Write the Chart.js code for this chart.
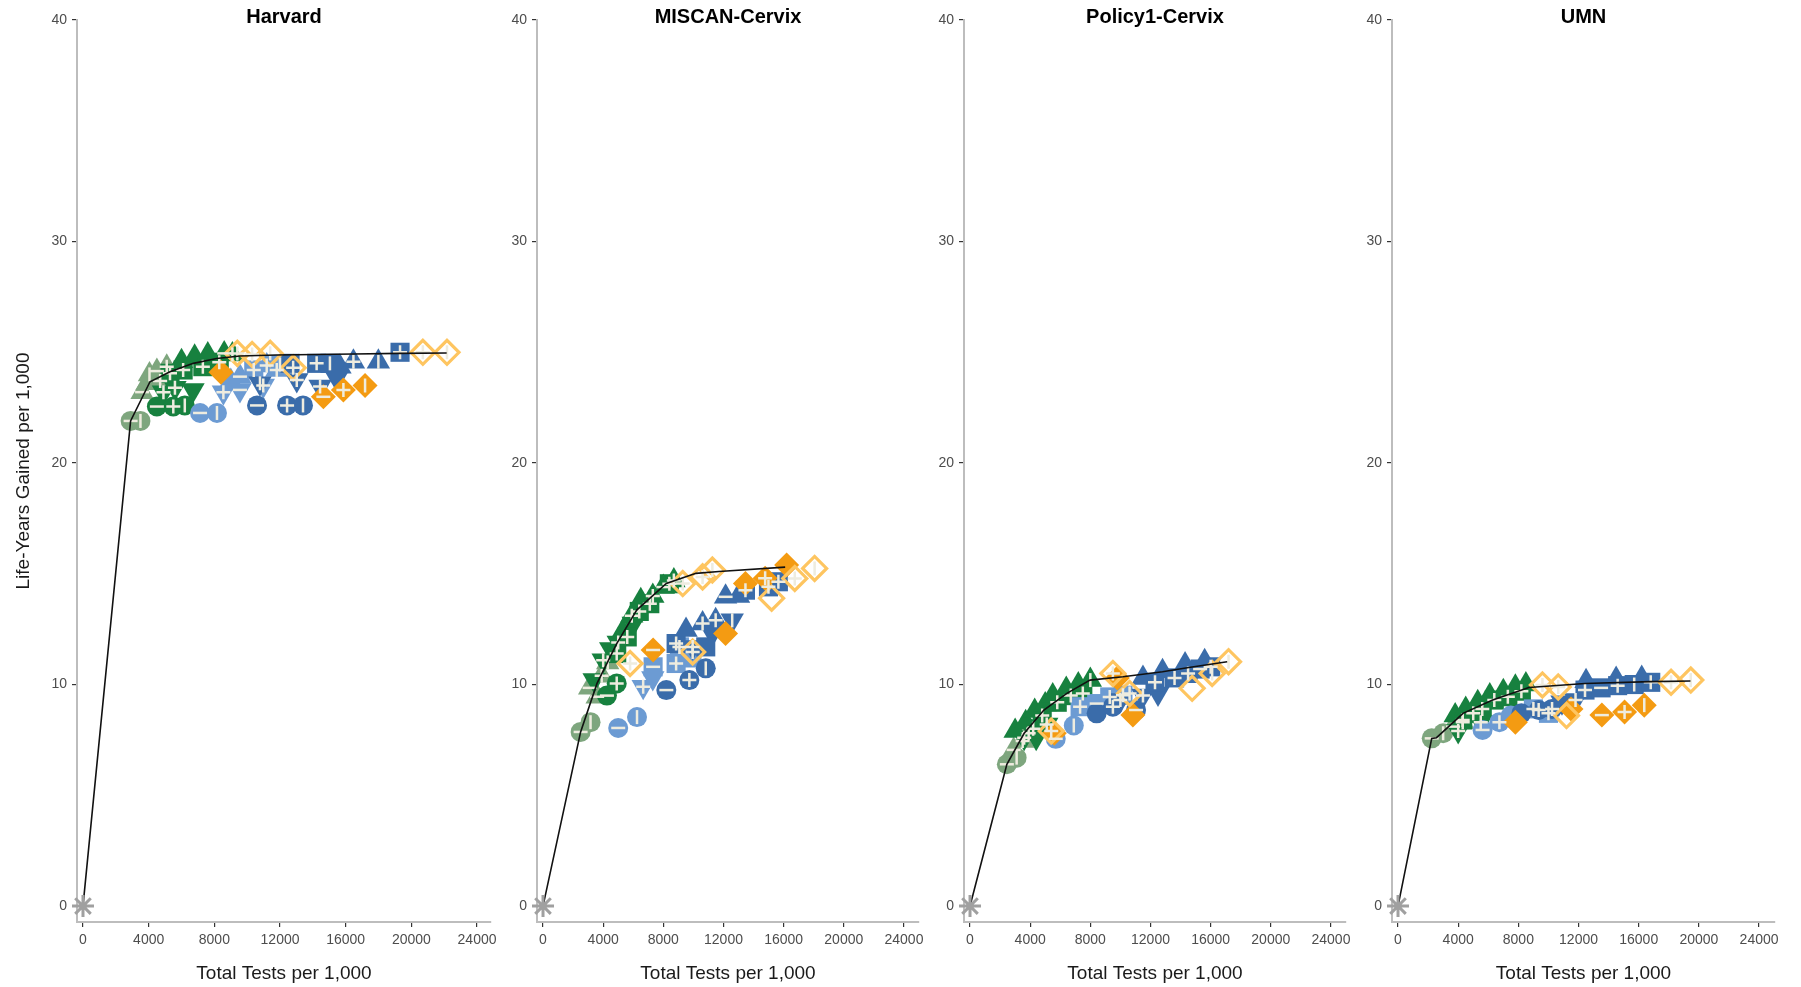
<!DOCTYPE html>
<html>
<head>
<meta charset="utf-8">
<title>Life-years gained vs. total tests</title>
<script src="https://cdn.jsdelivr.net/npm/chart.js@4.4.1/dist/chart.umd.min.js"></script>
<style>
  body { margin: 0; background: #fff; width: 1801px; height: 987px; position: relative; overflow: hidden; }
  .panel { position: absolute; top: 0; height: 987px; }
</style>
</head>
<body>
<div class="panel" style="left:0px;width:521px"><canvas id="c0"></canvas></div>
<div class="panel" style="left:497px;width:452px"><canvas id="c1"></canvas></div>
<div class="panel" style="left:924px;width:452px"><canvas id="c2"></canvas></div>
<div class="panel" style="left:1352px;width:448px"><canvas id="c3"></canvas></div>
<script>
// axes
const xTicks = [0, 4000, 8000, 12000, 16000, 20000, 24000];
const yTicks = [0, 10, 20, 30, 40];
const modelNames = ['Harvard', 'MISCAN-Cervix', 'Policy1-Cervix', 'UMN'];

// efficient frontiers
const harvardFrontierX = [0, 2900, 4080, 5300, 6720, 8140, 9560, 11800, 16500, 19300, 22150];
const harvardFrontierY = [0, 21.9, 23.67, 24.12, 24.5, 24.72, 24.83, 24.88, 24.92, 24.95, 24.97];
const miscanFrontierX = [0, 2500, 3590, 4910, 6230, 8200, 10170, 11700, 16100];
const miscanFrontierY = [0, 7.86, 10.05, 11.86, 13.36, 14.56, 15.02, 15.1, 15.3];
const policyFrontierX = [0, 2450, 3600, 4910, 6440, 7980, 10170, 12800, 14550, 17100];
const policyFrontierY = [0, 6.4, 7.8, 8.85, 9.6, 10.2, 10.35, 10.58, 10.77, 11.03];
const umnFrontierX = [0, 2240, 2560, 4320, 6290, 8700, 12430, 16810, 19440];
const umnFrontierY = [0, 7.57, 7.6, 8.7, 9.3, 9.87, 10.05, 10.13, 10.16];

// strategies: [tests, life-years, code]
const harvardSageCircle = [[2900, 21.9, '-'], [3500, 21.9, '|']];
const harvardSageTri = [[3600, 23.2, '-'], [3900, 23.6, ''], [4050, 24.0, '|'], [4700, 23.7, '+'], [4500, 24.15, '-'], [5100, 24.35, '+']];
const harvardGreenCircle = [[4500, 22.55, '-'], [5500, 22.55, '+'], [6200, 22.6, '|']];
const harvardGreenTriDown = [[4900, 23.2, '+'], [5600, 23.4, '+'], [6700, 23.3, '']];
const harvardGreenSquare = [[5300, 24.05, '+'], [6100, 24.2, '+'], [7300, 24.35, '+'], [8300, 24.55, '+']];
const harvardGreenTri = [[6000, 24.6, ''], [6800, 24.8, ''], [7600, 24.9, ''], [8600, 24.95, '-'], [9100, 24.9, '|']];
const harvardLtBlueCircle = [[7130, 22.26, '-'], [8160, 22.26, '|']];
const harvardLtBlueTriDown = [[8550, 23.2, '+'], [9560, 23.3, '-'], [10980, 23.5, '+']];
const harvardLtBlueTri = [[9000, 23.7, ''], [9560, 23.9, '-'], [11190, 24.4, '+'], [11800, 24.2, '+']];
const harvardLtBlueSquare = [[10400, 24.2, '+'], [12000, 24.45, '|']];
const harvardBlueCircle = [[10600, 22.6, '-'], [12430, 22.6, '+'], [13400, 22.6, '|']];
const harvardBlueTriDown = [[10780, 23.6, '|'], [13020, 23.75, '+'], [14440, 23.45, '+'], [15450, 23.82, '']];
const harvardBlueSquare = [[12610, 24.5, ''], [14230, 24.5, '+'], [15040, 24.5, '|'], [19310, 25.0, '+']];
const harvardBlueTri = [[15650, 24.35, ''], [16470, 24.57, '+'], [17990, 24.57, '|']];
const harvardOrangeDiamond = [[8400, 24.1, ''], [14640, 22.99, '-'], [15860, 23.3, '+'], [17180, 23.5, '|']];
const harvardOpenDiamond = [[9400, 24.95, '+'], [10300, 24.9, '+'], [11400, 24.95, '|'], [12800, 24.3, '+'], [20700, 25.0, '+'], [22170, 25.0, '|']];

const miscanSageCircle = [[2500, 7.86, '-'], [3160, 8.3, '|']];
const miscanSageTri = [[3100, 9.85, '-'], [3600, 9.45, '-'], [3900, 10.4, '+'], [4300, 11.0, '|']];
const miscanGreenCircle = [[4250, 9.5, '-'], [4900, 10.05, '+']];
const miscanGreenTriDown = [[3400, 10.2, ''], [4000, 11.1, '+'], [4500, 11.6, ''], [5000, 11.9, '+'], [6000, 12.75, '']];
const miscanGreenSquare = [[4900, 11.4, '+'], [5600, 12.15, '+'], [6400, 13.3, '+'], [7100, 13.65, '+'], [8400, 14.55, '+']];
const miscanGreenTri = [[5300, 12.4, ''], [5900, 13.1, '+'], [6500, 13.8, ''], [7300, 14.0, '+'], [8000, 14.4, '-'], [8700, 14.7, '+']];
const miscanLtBlueCircle = [[5000, 8.04, '-'], [6250, 8.53, '|']];
const miscanLtBlueTriDown = [[6660, 9.9, '+'], [7300, 10.3, '']];
const miscanLtBlueSquare = [[7320, 10.8, '-'], [8850, 10.95, '+'], [9070, 11.7, '+'], [9900, 11.2, '']];
const miscanBlueCircle = [[8200, 9.75, '-'], [9730, 10.2, '+'], [10820, 10.73, '|']];
const miscanBlueTriDown = [[9950, 11.7, '+'], [11260, 12.3, ''], [12580, 12.9, '|']];
const miscanBlueSquare = [[8850, 11.85, '+'], [10820, 11.7, ''], [13460, 14.26, '+'], [14990, 14.41, '+'], [15650, 14.64, '+']];
const miscanBlueTri = [[9510, 12.46, ''], [10610, 12.76, '+'], [11480, 12.9, '+'], [12140, 13.96, '-'], [13000, 14.0, '']];
const miscanOrangeDiamond = [[7320, 11.56, '-'], [12140, 12.3, ''], [13460, 14.56, ''], [14770, 14.8, '+'], [16200, 15.4, '']];
const miscanOpenDiamond = [[5790, 10.95, '+'], [9950, 11.47, '+'], [9290, 14.56, '+'], [10610, 14.86, '+'], [11260, 15.17, '|'], [15200, 13.9, ''], [16740, 14.79, '+'], [18060, 15.24, '|']];

const policySageCircle = [[2450, 6.4, '-'], [3100, 6.7, '|']];
const policySageTri = [[2900, 7.05, '-'], [3500, 7.45, '+'], [3900, 7.8, '+']];
const policyGreenTriDown = [[3600, 7.6, '+'], [4400, 7.6, ''], [5100, 8.2, '+']];
const policyGreenSquare = [[4200, 8.0, '+'], [4800, 8.6, '+'], [5800, 9.2, '+'], [6700, 9.5, '+'], [7500, 9.6, '+']];
const policyGreenTri = [[3000, 7.9, ''], [3700, 8.3, ''], [4300, 8.8, ''], [5000, 9.1, ''], [5500, 9.5, ''], [6400, 9.8, ''], [7200, 10.0, ''], [8000, 10.2, '|']];
const policyLtBlueCircle = [[5700, 7.55, '-'], [6900, 8.15, '|']];
const policyLtBlueSquare = [[7320, 9.0, '+'], [8420, 9.14, '-'], [9290, 9.44, '+'], [10170, 9.52, '+']];
const policyBlueCircle = [[8420, 8.7, ''], [9500, 9.0, '+'], [11040, 8.85, '-']];
const policyBlueTriDown = [[10000, 9.3, '+'], [11500, 9.5, '+'], [12500, 9.6, '']];
const policyBlueSquare = [[12300, 10.1, '+'], [13600, 10.3, '+'], [14500, 10.5, '+'], [15300, 10.7, '-'], [16000, 10.8, '+']];
const policyBlueTri = [[11500, 10.3, ''], [12800, 10.6, ''], [14300, 10.9, ''], [15600, 11.05, '']];
const policyOrangeDiamond = [[5600, 7.8, ''], [9800, 10.3, ''], [10830, 8.62, '']];
const policyOpenDiamond = [[5400, 7.9, '+'], [9500, 10.5, '+'], [10610, 9.6, '+'], [14770, 9.83, ''], [16100, 10.5, '|'], [17190, 11.03, '|']];

const umnSageCircle = [[2240, 7.57, '-'], [3000, 7.8, '|']];
const umnSageTri = [[3660, 8.1, '-'], [4300, 8.3, '+']];
const umnGreenTriDown = [[4000, 7.9, '+'], [5500, 8.3, '+']];
const umnGreenSquare = [[4300, 8.4, '+'], [5000, 8.7, '+'], [5600, 8.9, '+'], [6400, 9.3, '+'], [7300, 9.45, '+'], [8200, 9.7, '+']];
const umnGreenTri = [[3800, 8.6, ''], [4500, 8.9, ''], [5300, 9.2, ''], [6100, 9.5, ''], [7000, 9.7, ''], [7800, 9.9, ''], [8500, 10.0, '']];
const umnLtBlueCircle = [[5620, 7.95, '-'], [6740, 8.3, '+'], [7500, 8.6, '']];
const umnLtBlueSquare = [[9000, 8.9, '+'], [10000, 8.7, '+']];
const umnBlueCircle = [[8200, 8.7, ''], [9350, 8.85, '+'], [10240, 8.9, '+']];
const umnBlueTriDown = [[10900, 9.2, ''], [11800, 9.3, '+']];
const umnBlueSquare = [[12430, 9.75, '+'], [13500, 9.85, '-'], [14600, 9.95, '+'], [15700, 10.0, '|'], [16800, 10.1, '+']];
const umnBlueTri = [[12500, 10.15, ''], [14500, 10.25, ''], [16200, 10.3, '']];
const umnOrangeDiamond = [[7800, 8.3, ''], [11500, 8.9, ''], [13550, 8.62, '-'], [15060, 8.76, '+'], [16370, 9.07, '|']];
const umnOpenDiamond = [[9600, 9.98, '+'], [10650, 9.89, '+'], [11200, 8.6, ''], [18150, 10.1, '+'], [19460, 10.2, '|']];

const SAGE = '#7ea67e', GREEN = '#17813f', LTBLUE = '#6c9bd3', BLUE = '#3a6caa';
const ORANGE = '#f49b12', LTORANGE = '#fec560', CREAM = '#eeecdf';
const FONT = "'Liberation Sans', Arial, Helvetica, sans-serif";

// marker look per group, bottom to top
const markerStyle = {
  sageCircle:    { shape: 'circle',   color: SAGE,   r: 10 },
  sageTri:       { shape: 'triangle', color: SAGE,   r: 13.5 },
  greenTriDown:  { shape: 'triangle', color: GREEN,  r: 13.5, rot: 180 },
  greenSquare:   { shape: 'rect',     color: GREEN,  r: 13.5 },
  greenTri:      { shape: 'triangle', color: GREEN,  r: 13.5 },
  greenCircle:   { shape: 'circle',   color: GREEN,  r: 10 },
  ltBlueCircle:  { shape: 'circle',   color: LTBLUE, r: 10 },
  ltBlueTriDown: { shape: 'triangle', color: LTBLUE, r: 13.5, rot: 180 },
  ltBlueTri:     { shape: 'triangle', color: LTBLUE, r: 13.5 },
  ltBlueSquare:  { shape: 'rect',     color: LTBLUE, r: 13.5 },
  blueCircle:    { shape: 'circle',   color: BLUE,   r: 10 },
  blueTriDown:   { shape: 'triangle', color: BLUE,   r: 13.5, rot: 180 },
  blueSquare:    { shape: 'rect',     color: BLUE,   r: 13.5 },
  blueTri:       { shape: 'triangle', color: BLUE,   r: 13.5 },
  orangeDiamond: { shape: 'rectRot',  color: ORANGE, r: 12.5 },
  openDiamond:   { shape: 'rectRot',  color: LTORANGE, r: 12, open: true }
};

// white codes drawn over the markers
const codeStyle = [
  { code: '+', shape: 'cross', rot: 0 },
  { code: '-', shape: 'line', rot: 0 },
  { code: '|', shape: 'line', rot: 90 }
];

const panels = [
  { frontierX: harvardFrontierX, frontierY: harvardFrontierY, groups: {
      sageCircle: harvardSageCircle, sageTri: harvardSageTri, greenTriDown: harvardGreenTriDown,
      greenSquare: harvardGreenSquare, greenTri: harvardGreenTri, greenCircle: harvardGreenCircle,
      ltBlueCircle: harvardLtBlueCircle, ltBlueTriDown: harvardLtBlueTriDown, ltBlueTri: harvardLtBlueTri,
      ltBlueSquare: harvardLtBlueSquare, blueCircle: harvardBlueCircle, blueTriDown: harvardBlueTriDown,
      blueSquare: harvardBlueSquare, blueTri: harvardBlueTri, orangeDiamond: harvardOrangeDiamond,
      openDiamond: harvardOpenDiamond } },
  { frontierX: miscanFrontierX, frontierY: miscanFrontierY, groups: {
      sageCircle: miscanSageCircle, sageTri: miscanSageTri, greenTriDown: miscanGreenTriDown,
      greenSquare: miscanGreenSquare, greenTri: miscanGreenTri, greenCircle: miscanGreenCircle,
      ltBlueCircle: miscanLtBlueCircle, ltBlueTriDown: miscanLtBlueTriDown,
      ltBlueSquare: miscanLtBlueSquare, blueCircle: miscanBlueCircle, blueTriDown: miscanBlueTriDown,
      blueSquare: miscanBlueSquare, blueTri: miscanBlueTri, orangeDiamond: miscanOrangeDiamond,
      openDiamond: miscanOpenDiamond } },
  { frontierX: policyFrontierX, frontierY: policyFrontierY, groups: {
      sageCircle: policySageCircle, sageTri: policySageTri, greenTriDown: policyGreenTriDown,
      greenSquare: policyGreenSquare, greenTri: policyGreenTri,
      ltBlueCircle: policyLtBlueCircle, ltBlueSquare: policyLtBlueSquare, blueCircle: policyBlueCircle,
      blueTriDown: policyBlueTriDown, blueSquare: policyBlueSquare, blueTri: policyBlueTri,
      orangeDiamond: policyOrangeDiamond, openDiamond: policyOpenDiamond } },
  { frontierX: umnFrontierX, frontierY: umnFrontierY, groups: {
      sageCircle: umnSageCircle, sageTri: umnSageTri, greenTriDown: umnGreenTriDown,
      greenSquare: umnGreenSquare, greenTri: umnGreenTri, ltBlueCircle: umnLtBlueCircle,
      ltBlueSquare: umnLtBlueSquare, blueCircle: umnBlueCircle, blueTriDown: umnBlueTriDown,
      blueSquare: umnBlueSquare, blueTri: umnBlueTri, orangeDiamond: umnOrangeDiamond,
      openDiamond: umnOpenDiamond } }
];

// plot geometry of each facet (y-axis width, right padding, x range)
const frames = [
  { yAxisW: 77, padRight: 30, xMin: -365, xMax: 24850 },
  { yAxisW: 40, padRight: 30, xMin: -400, xMax: 25000 },
  { yAxisW: 40, padRight: 30, xMin: -400, xMax: 25000 },
  { yAxisW: 40, padRight: 25, xMin: -400, xMax: 25060 }
];

const toXY = q => ({ x: q[0], y: q[1] });

function buildDatasets(p) {
  const ds = [];
  const all = [];
  Object.keys(markerStyle).forEach(key => {
    const pts = p.groups[key];
    if (!pts || !pts.length) return;
    const s = markerStyle[key];
    all.push(...pts);
    ds.push({
      data: pts.map(toXY),
      pointStyle: s.shape,
      pointRadius: s.r,
      pointRotation: s.rot || 0,
      backgroundColor: s.open ? 'rgba(0,0,0,0)' : s.color,
      borderColor: s.color,
      borderWidth: s.open ? 3.2 : 0,
      clip: false
    });
  });
  codeStyle.forEach(c => {
    ds.push({
      data: all.filter(q => q[2] === c.code).map(toXY),
      pointStyle: c.shape,
      pointRotation: c.rot,
      pointRadius: 7,
      borderColor: CREAM,
      backgroundColor: CREAM,
      borderWidth: 2.5,
      clip: false
    });
  });
  ds.push({
    data: p.frontierX.map((x, k) => ({ x: x, y: p.frontierY[k] })),
    showLine: true,
    borderColor: '#111111',
    borderWidth: 1.6,
    pointRadius: 0,
    clip: false
  });
  // no-screening reference point
  ds.push({
    data: [{ x: 0, y: 0 }],
    pointStyle: 'star',
    pointRadius: 11,
    borderColor: '#a0a0a0',
    borderWidth: 3,
    clip: false
  });
  // later datasets on top
  ds.forEach((d, k) => { d.order = -k; });
  return ds;
}

panels.forEach((p, i) => {
  const f = frames[i];
  new Chart(document.getElementById('c' + i), {
    type: 'scatter',
    data: { datasets: buildDatasets(p) },
    options: {
      responsive: true,
      maintainAspectRatio: false,
      animation: false,
      events: [],
      layout: { padding: { left: 0, right: f.padRight, top: 0, bottom: 0 } },
      plugins: {
        legend: { display: false },
        tooltip: { enabled: false },
        title: {
          display: true,
          text: modelNames[i],
          fullSize: false,
          color: '#000000',
          font: { family: FONT, size: 20, weight: 'bold', lineHeight: 0.8 },
          padding: { top: 9, bottom: -5 }
        }
      },
      scales: {
        x: {
          type: 'linear',
          min: f.xMin,
          max: f.xMax,
          afterBuildTicks: s => { s.ticks = xTicks.map(v => ({ value: v })); },
          afterFit: s => { s.height = 65; },
          ticks: {
            callback: v => String(v),
            color: '#4d4d4d',
            font: { family: FONT, size: 14 },
            padding: 5,
            maxRotation: 0,
            autoSkip: false
          },
          grid: { drawOnChartArea: false, drawTicks: true, tickLength: 5, color: '#333333', tickColor: '#333333', lineWidth: 1.2 },
          border: { display: true, color: '#bdbdbd', width: 2 },
          title: {
            display: true,
            text: 'Total Tests per 1,000',
            color: '#1a1a1a',
            font: { family: FONT, size: 19, lineHeight: 1 },
            padding: { top: 0, bottom: 4 }
          }
        },
        y: {
          type: 'linear',
          min: -0.72,
          max: 40,
          afterBuildTicks: s => { s.ticks = yTicks.map(v => ({ value: v })); },
          afterFit: s => { s.width = f.yAxisW; },
          ticks: {
            callback: v => String(v),
            color: '#4d4d4d',
            font: { family: FONT, size: 14 },
            padding: 5,
            autoSkip: false
          },
          grid: { drawOnChartArea: false, drawTicks: true, tickLength: 5, color: '#333333', tickColor: '#333333', lineWidth: 1.2 },
          border: { display: true, color: '#bdbdbd', width: 2 },
          title: {
            display: i === 0,
            text: 'Life-Years Gained per 1,000',
            color: '#1a1a1a',
            font: { family: FONT, size: 19, lineHeight: 1.2 },
            padding: { top: 12.6, bottom: 0 }
          }
        }
      }
    }
  });
});
</script>
</body>
</html>
